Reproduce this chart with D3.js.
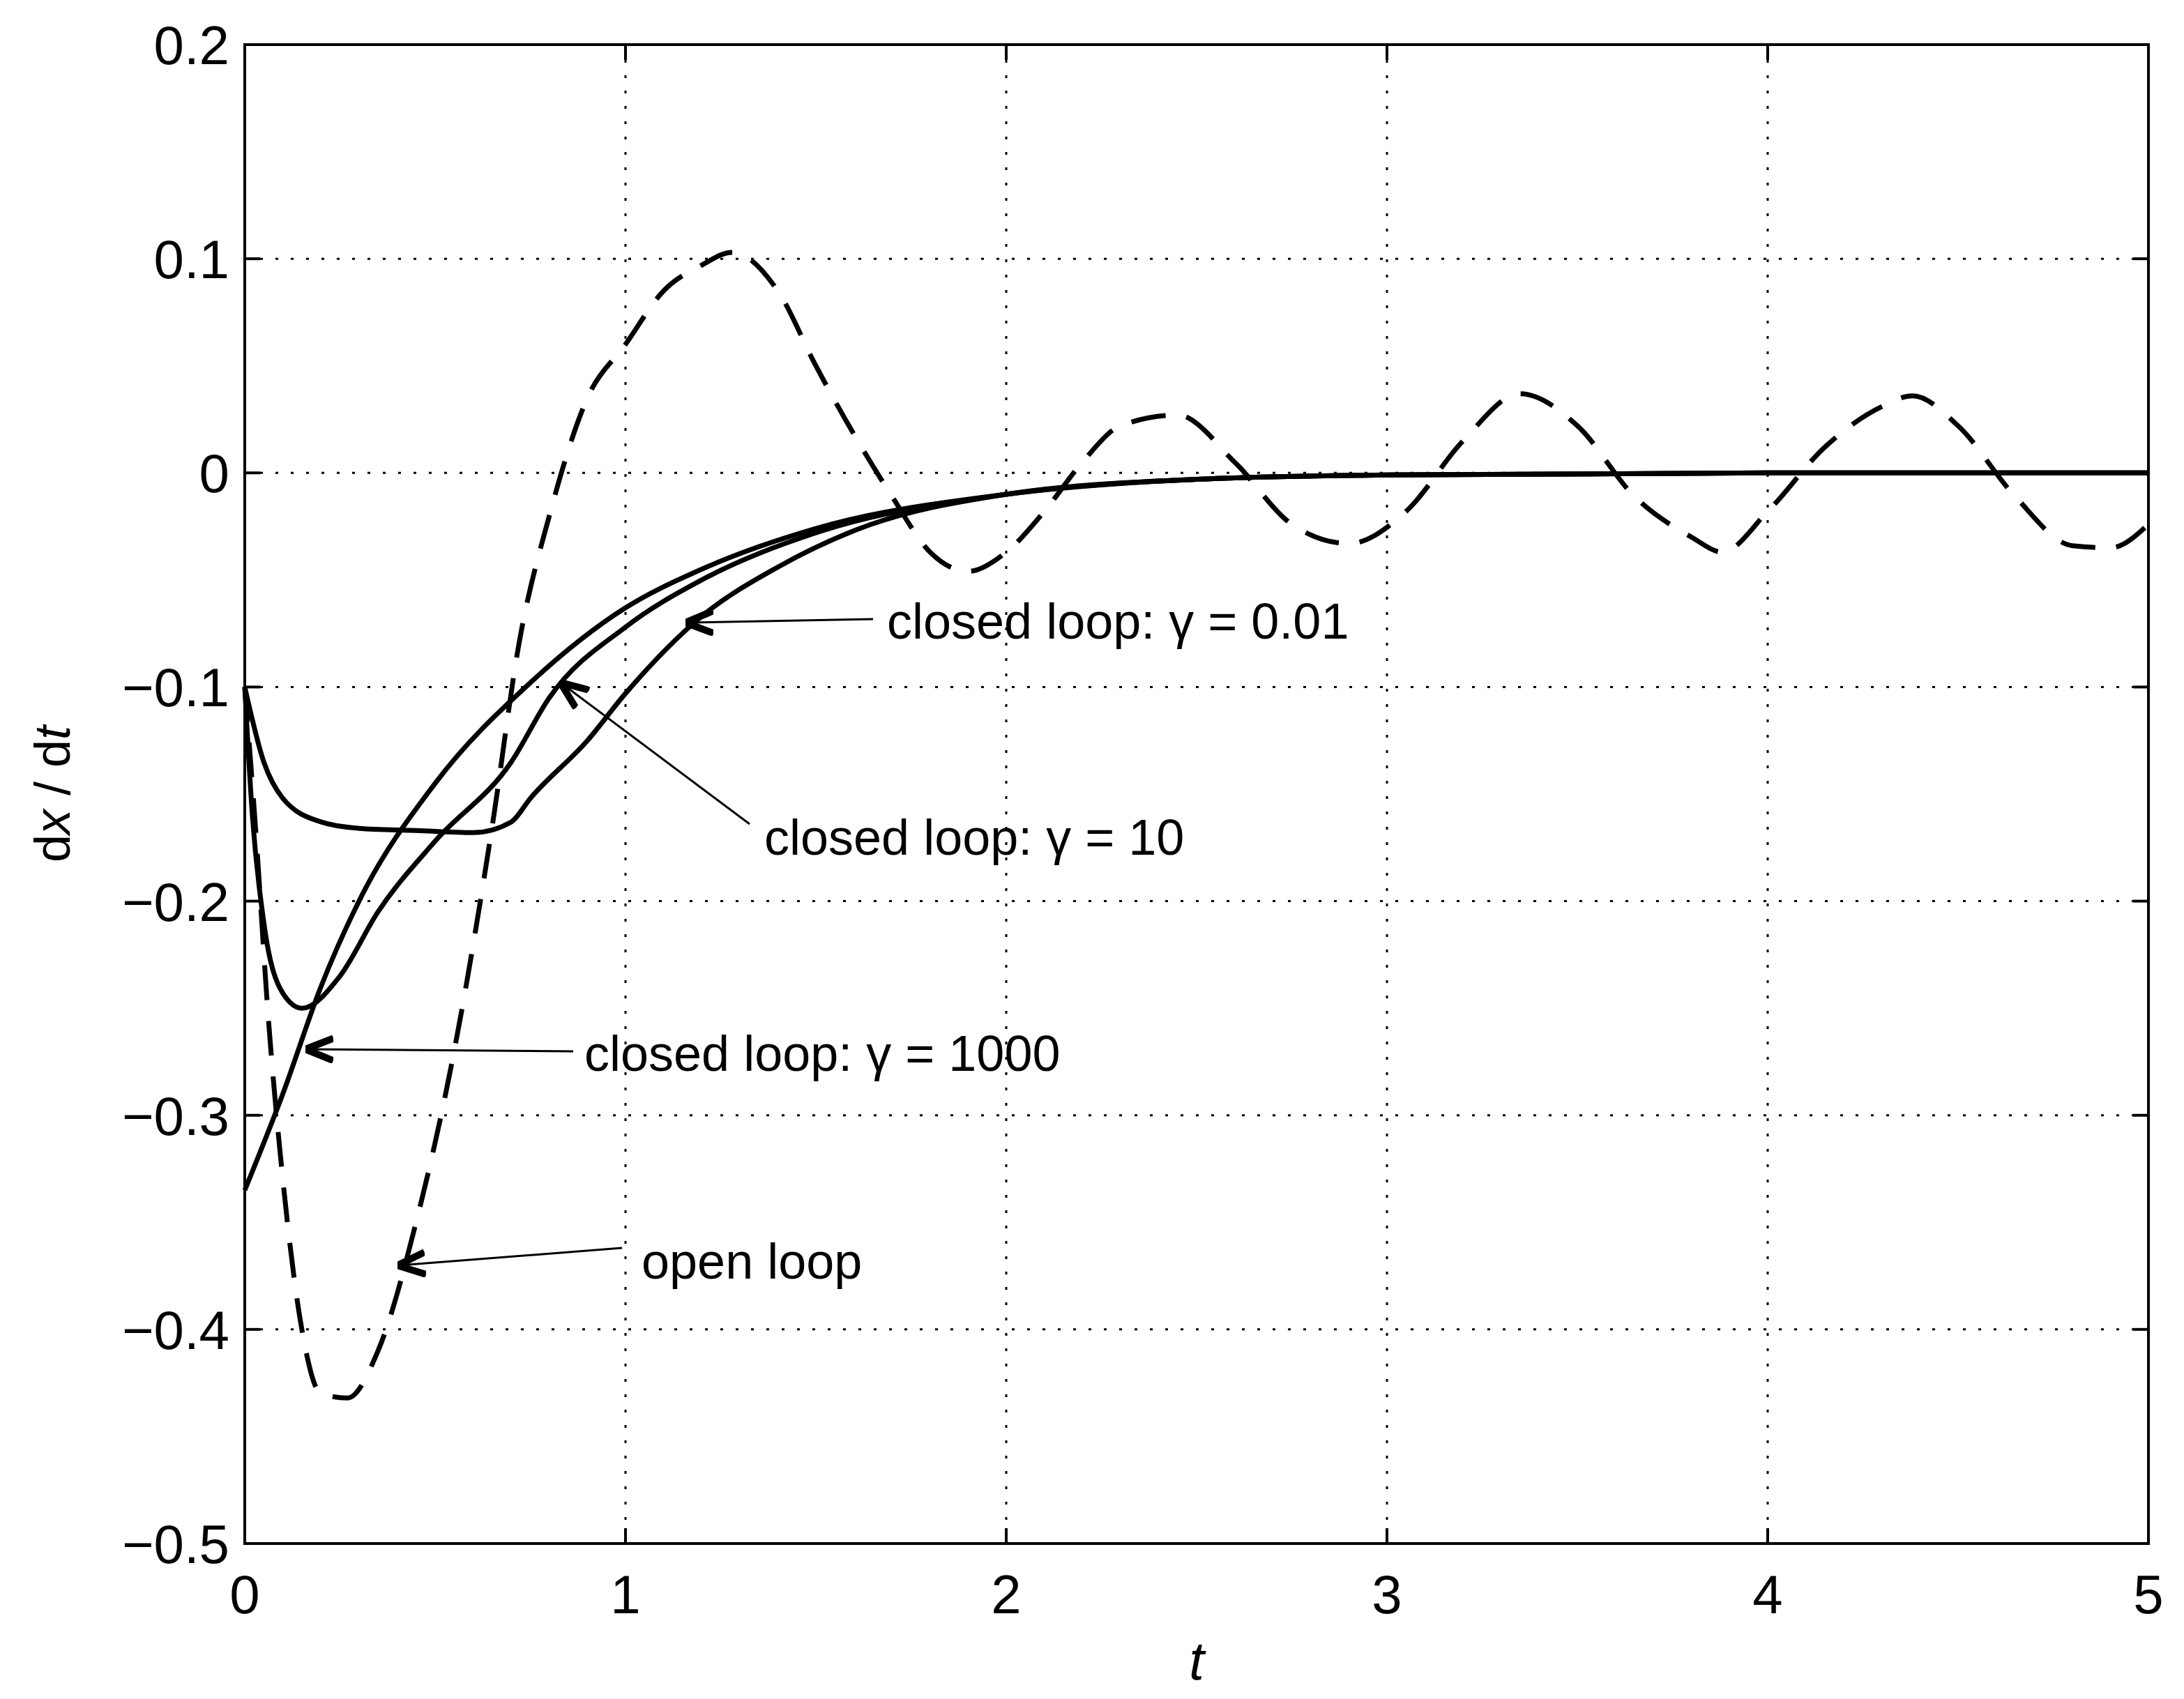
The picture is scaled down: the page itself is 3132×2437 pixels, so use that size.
<!DOCTYPE html>
<html><head><meta charset="utf-8">
<script src="https://cdn.jsdelivr.net/npm/d3@7"></script>
<style>body{margin:0;background:#fff}</style>
</head><body>
<svg id="chart" width="3132" height="2437"></svg>
<script>
// values
var openT   = [0,0.03,0.06,0.1,0.15,0.2,0.27,0.35,0.45,0.55,0.65,0.72,0.8,0.9,1.0,1.1,1.2,1.28,1.4,1.5,1.6,1.7,1.8,1.9,2.0,2.1,2.2,2.3,2.45,2.6,2.75,2.9,3.05,3.2,3.35,3.5,3.65,3.8,3.88,4.0,4.15,4.3,4.38,4.5,4.65,4.8,4.9,5.0];
var openV   = [-0.1,-0.17,-0.25,-0.33,-0.4,-0.43,-0.432,-0.41,-0.35,-0.27,-0.165,-0.08,-0.02,0.035,0.06,0.085,0.097,0.103,0.085,0.05,0.018,-0.011,-0.037,-0.046,-0.037,-0.018,0.005,0.022,0.027,0.005,-0.024,-0.033,-0.018,0.015,0.037,0.022,-0.011,-0.03,-0.037,-0.018,0.012,0.031,0.036,0.022,-0.011,-0.034,-0.035,-0.024];
var g001T   = [0,0.05,0.1,0.2,0.3,0.45,0.6,0.7,0.75,0.9,1.0,1.2,1.4,1.6,2.0,2.5,3.0,4.0,5.0];
var g001V   = [-0.1,-0.135,-0.152,-0.163,-0.166,-0.167,-0.168,-0.163,-0.152,-0.125,-0.103,-0.067,-0.044,-0.027,-0.01,-0.003,-0.001,0,0];
var g10T    = [0,0.02,0.05,0.1,0.15,0.25,0.35,0.5,0.7,0.8,1.0,1.2,1.5,2.0,2.5,3.0,4.0,5.0];
var g10V    = [-0.1,-0.16,-0.21,-0.243,-0.25,-0.235,-0.205,-0.172,-0.135,-0.105,-0.072,-0.05,-0.028,-0.01,-0.003,-0.001,0,0];
var g1000T  = [0,0.1,0.2,0.3,0.5,0.75,1.0,1.2,1.5,2.0,2.5,3.0,4.0,5.0];
var g1000V  = [-0.335,-0.29,-0.24,-0.2,-0.145,-0.098,-0.063,-0.045,-0.026,-0.01,-0.003,-0.001,0,0];
var xTicks  = [0,1,2,3,4,5];
var yTicks  = [0.2,0.1,0,-0.1,-0.2,-0.3,-0.4,-0.5];
var notes = [
  {label:"closed loop: γ = 0.01", tx:1272, ty:890, from:[1252,888], to:[985,893]},
  {label:"closed loop: γ = 10",   tx:1096, ty:1200, from:[1075,1182], to:[805,980]},
  {label:"closed loop: γ = 1000", tx:838,  ty:1510, from:[822,1508], to:[440,1505]},
  {label:"open loop",             tx:920,  ty:1808, from:[892,1790], to:[572,1815]}
];

var L = 351, T = 64, R = 3081, B = 2214;
var svg = d3.select("#chart");
var x = d3.scaleLinear().domain([0,5]).range([L,R]);
var y = d3.scaleLinear().domain([-0.5,0.2]).range([B,T]);
var font = "'Liberation Sans', Arial, sans-serif";

// grid
svg.append("g").selectAll("line").data(xTicks.slice(1,-1)).enter().append("line")
  .attr("x1", d=>x(d)).attr("x2", d=>x(d)).attr("y1", T).attr("y2", B)
  .attr("stroke","#000").attr("stroke-width",3).attr("stroke-dasharray","4,18");
svg.append("g").selectAll("line").data(yTicks.slice(1,-1)).enter().append("line")
  .attr("y1", d=>y(d)).attr("y2", d=>y(d)).attr("x1", L).attr("x2", R)
  .attr("stroke","#000").attr("stroke-width",3).attr("stroke-dasharray","4,18");

// frame + inward ticks
svg.append("rect").attr("x",L).attr("y",T).attr("width",R-L).attr("height",B-T)
  .attr("fill","none").attr("stroke","#000").attr("stroke-width",4);
var tk = svg.append("g").attr("stroke","#000").attr("stroke-width",4);
xTicks.forEach(function(d){
  tk.append("line").attr("x1",x(d)).attr("x2",x(d)).attr("y1",B).attr("y2",B-22);
  tk.append("line").attr("x1",x(d)).attr("x2",x(d)).attr("y1",T).attr("y2",T+22);
});
yTicks.forEach(function(d){
  tk.append("line").attr("y1",y(d)).attr("y2",y(d)).attr("x1",L).attr("x2",L+22);
  tk.append("line").attr("y1",y(d)).attr("y2",y(d)).attr("x1",R).attr("x2",R-22);
});
var fmt = function(d){ return (d<0?"\u2212":"") + (d===0?"0":Math.abs(d).toFixed(1)); };
svg.append("g").selectAll("text").data(xTicks).enter().append("text")
  .attr("x", d=>x(d)).attr("y", B+100).attr("text-anchor","middle")
  .attr("font-family",font).attr("font-size",78).text(d=>d);
svg.append("g").selectAll("text").data(yTicks).enter().append("text")
  .attr("x", L-22).attr("y", d=>y(d)+28).attr("text-anchor","end")
  .attr("font-family",font).attr("font-size",78).text(fmt);

svg.append("text").attr("x",(L+R)/2).attr("y",B+195).attr("text-anchor","middle")
  .attr("font-family",font).attr("font-size",78).attr("font-style","italic").text("t");
var yl = svg.append("text").attr("transform","translate(100,"+((T+B)/2)+") rotate(-90)")
  .attr("text-anchor","middle").attr("font-family",font).attr("font-size",72);
yl.append("tspan").text("d");
yl.append("tspan").attr("font-style","italic").text("x");
yl.append("tspan").text(" / d");
yl.append("tspan").attr("font-style","italic").text("t");

// curves
var line = d3.line().x(d=>x(d[0])).y(d=>y(d[1])).curve(d3.curveMonotoneX);
function draw(ts, vs, dash){
  svg.append("path").datum(ts.map((t,i)=>[t,vs[i]])).attr("d",line)
    .attr("fill","none").attr("stroke","#000").attr("stroke-width",7)
    .attr("stroke-dasharray", dash || null);
}
draw(openT, openV, "50,30");
draw(g001T, g001V);
draw(g10T, g10V);
draw(g1000T, g1000V);

// annotations
svg.append("defs").append("marker").attr("id","arr").attr("viewBox","0 0 20 20")
  .attr("refX",19).attr("refY",10).attr("markerWidth",20).attr("markerHeight",20)
  .attr("markerUnits","userSpaceOnUse").attr("orient","auto")
  .append("path").attr("d","M0,2 L20,10 L0,18").attr("fill","none").attr("stroke","#000").attr("stroke-width",5);
svg.select("marker").attr("markerWidth",40).attr("markerHeight",40);
notes.forEach(function(n){
  svg.append("line").attr("x1",n.from[0]).attr("y1",n.from[1]).attr("x2",n.to[0]).attr("y2",n.to[1])
    .attr("stroke","#000").attr("stroke-width",3).attr("marker-end","url(#arr)");
  svg.append("text").attr("x",n.tx).attr("y",n.ty+26).attr("font-family",font).attr("font-size",72).text(n.label);
});
</script>
</body></html>
